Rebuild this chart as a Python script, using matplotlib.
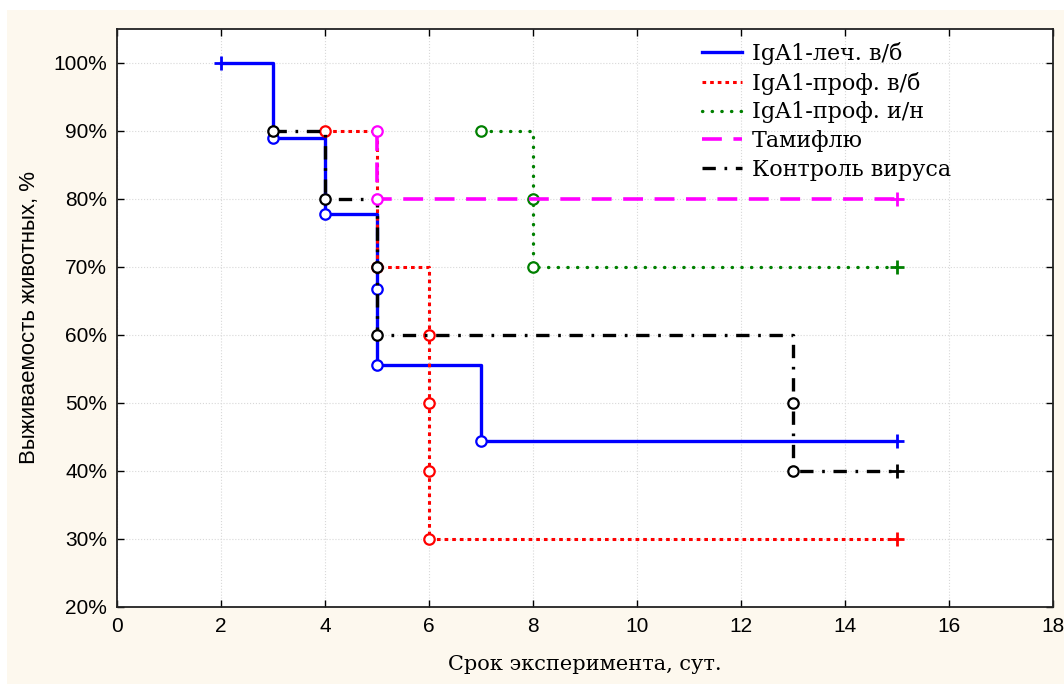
import matplotlib
matplotlib.use("Agg")
import matplotlib.pyplot as plt
from matplotlib.patches import Rectangle
from matplotlib.ticker import FuncFormatter, MultipleLocator

# Kaplan-Meier curves: step times / survival (%)
blue_t = [2, 3, 4, 5, 7, 15]
blue_s = [100, 88.9, 77.8, 55.6, 44.4, 44.4]
blue_ev_t = [3, 4, 5, 5, 7]
blue_ev_s = [88.9, 77.8, 66.7, 55.6, 44.4]
blue_cens_t = [2, 15]
blue_cens_s = [100, 44.4]

red_t = [4, 5, 6, 15]
red_s = [90, 70, 30, 30]
red_ev_t = [4, 5, 6, 6, 6, 6]
red_ev_s = [90, 70, 60, 50, 40, 30]
red_cens_t = [15]
red_cens_s = [30]

green_t = [7, 8, 15]
green_s = [90, 70, 70]
green_ev_t = [7, 8, 8]
green_ev_s = [90, 80, 70]
green_cens_t = [15]
green_cens_s = [70]

mag_t = [5, 5, 15]
mag_s = [90, 80, 80]
mag_ev_t = [5, 5]
mag_ev_s = [90, 80]
mag_cens_t = [15]
mag_cens_s = [80]

black_t = [3, 4, 5, 13, 15]
black_s = [90, 80, 60, 40, 40]
black_ev_t = [3, 4, 5, 5, 13, 13]
black_ev_s = [90, 80, 70, 60, 50, 40]
black_cens_t = [15]
black_cens_s = [40]

labels = ["IgA1-леч. в/б", "IgA1-проф. в/б", "IgA1-проф. и/н", "Тамифлю", "Контроль вируса"]

fig = plt.figure(figsize=(10.64, 6.84), dpi=100)
fig.patch.set_facecolor("white")
fig.patches.append(Rectangle((7 / 1064, 0), 1, 1 - 10 / 684, transform=fig.transFigure,
                             facecolor="#fdf8ee", edgecolor="none", zorder=-5))
ax = fig.add_axes([117 / 1064, 1 - 607 / 684, (1053 - 117) / 1064, (607 - 29) / 684])
ax.set_facecolor("white")

green_ls = (0, (0.1, 2.8))
series = [
    (blue_t, blue_s, blue_ev_t, blue_ev_s, blue_cens_t, blue_cens_s, "#0000ff", "-", 2.4, 3),
    (red_t, red_s, red_ev_t, red_ev_s, red_cens_t, red_cens_s, "#ff0000", (0, (1.2, 1.3)), 2.2, 4),
    (green_t, green_s, green_ev_t, green_ev_s, green_cens_t, green_cens_s, "#008000", green_ls, 2.4, 4),
    (mag_t, mag_s, mag_ev_t, mag_ev_s, mag_cens_t, mag_cens_s, "#ff00ff", (0, (5.5, 3.2)), 2.6, 5),
    (black_t, black_s, black_ev_t, black_ev_s, black_cens_t, black_cens_s, "black", (0, (4, 2.6, 0.8, 2.6)), 2.4, 4.5),
]

handles = []
for (t, s, et, es, ct, cs, col, ls, lw, z), lab in zip(series, labels):
    line, = ax.step(t, s, where="post", color=col, linestyle=ls, linewidth=lw, zorder=z,
                    dash_capstyle="round" if ls == green_ls else "butt", label=lab)
    ax.plot(et, es, "o", markersize=7.5, markerfacecolor="white", markeredgecolor=col,
            markeredgewidth=1.6, linestyle="none", zorder=z + 0.1)
    ax.plot(ct, cs, "+", markersize=10, markeredgecolor=col, markeredgewidth=2,
            linestyle="none", zorder=z + 0.1)
    handles.append(line)

ax.set_xlim(0, 18)
ax.set_ylim(20, 105)
ax.xaxis.set_major_locator(MultipleLocator(2))
ax.yaxis.set_major_locator(MultipleLocator(10))
ax.yaxis.set_major_formatter(FuncFormatter(lambda v, p: f"{v:.0f}%"))
ax.tick_params(direction="in", length=5, width=1, top=True, right=True, labelsize=15,
               pad=7, colors="black")
for lbl in ax.get_xticklabels() + ax.get_yticklabels():
    lbl.set_family("Liberation Sans")
ax.grid(True, linestyle=":", color="#d8d8d8", linewidth=0.8, zorder=0)
ax.set_axisbelow(True)
for sp in ax.spines.values():
    sp.set_linewidth(1.3)
    sp.set_color("#222222")

ax.set_xlabel("Срок эксперимента, сут.", family="DejaVu Serif", fontsize=15, labelpad=14)
ax.set_ylabel("Выживаемость животных, %", family="Liberation Sans", fontsize=16, labelpad=10)

leg = ax.legend(handles=handles, loc="upper right", bbox_to_anchor=(0.912, 1.012), frameon=False,
                prop={"family": "DejaVu Serif", "size": 16}, handlelength=1.8,
                labelspacing=0.3, handletextpad=0.45)

fig.savefig("out.png", dpi=100, facecolor=fig.get_facecolor())
